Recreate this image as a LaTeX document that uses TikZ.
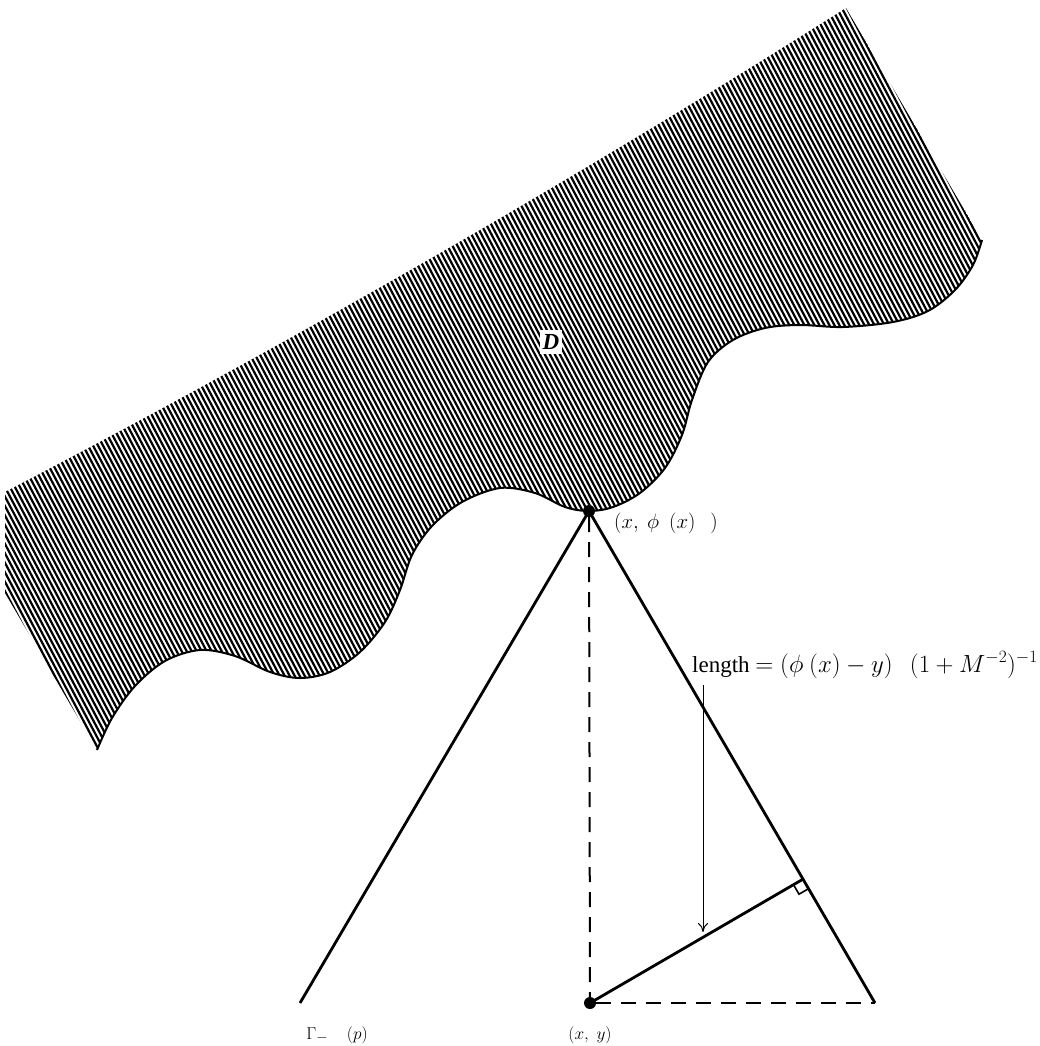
\documentclass[tikz,border=0pt]{standalone}
\usepackage{fontspec}
\setmainfont{Liberation Serif}
\usetikzlibrary{calc,arrows.meta}
\begin{document}
\begin{tikzpicture}[x=1pt,y=-1pt,
  mainline/.style={line width=2.8pt},
  dashline/.style={line width=2pt, dash pattern=on 15pt off 10pt},
  hatchline/.style={line width=2.2pt},
  bound/.style={line width=2pt, line join=round},
  pointdot/.style={circle, fill=black, inner sep=0pt, minimum size=12pt},
  lab/.style={inner sep=0pt},
  ]
\useasboundingbox (0,0) rectangle (1039,1046);
% hatched region D
\begin{scope}
\clip (846,8) .. controls (566,185) and (286,345) .. (5,492) -- (5,593) --
  plot[smooth,tension=0.55] coordinates {(97,750) (112,718) (135,686) (165,661) (200,650) (235,656) (270,672) (300,678) (330,672) (360,652) (385,622) (400,590) (412,555) (432,526) (462,502) (500,488) (535,493) (565,507) (589,511) (613,507) (640,493) (665,468) (682,435) (692,400) (708,362) (733,340) (765,328) (800,325) (843,327) (893,322) (928,311) (955,290) (973,265) (982,240)} -- cycle;
\foreach \k in {-570,-565,...,1045} \draw[hatchline] (\k,-5) -- ++(560,1060);
\end{scope}
\draw[bound] plot[smooth,tension=0.55] coordinates {(97,750) (112,718) (135,686) (165,661) (200,650) (235,656) (270,672) (300,678) (330,672) (360,652) (385,622) (400,590) (412,555) (432,526) (462,502) (500,488) (535,493) (565,507) (589,511) (613,507) (640,493) (665,468) (682,435) (692,400) (708,362) (733,340) (765,328) (800,325) (843,327) (893,322) (928,311) (955,290) (973,265) (982,240)};
\node[fill=white, inner xsep=3pt, inner ysep=4pt, font=\fontsize{23}{23}\selectfont] (D) at (551,342) {\textbf{\textit{D}}};
% cone and points
\node[pointdot] (apex) at (589,511) {};
\node[pointdot] (pt) at (590,1003) {};
\coordinate (Lend) at (300,1003);
\coordinate (Rend) at (875,1003);
\draw[mainline] (apex.center) -- (Lend);
\draw[mainline] (apex.center) -- (Rend);
\draw[dashline] (apex) -- (pt);
\draw[dashline] (pt) -- (Rend);
\coordinate (foot) at ($(apex)!(pt)!(Rend)$);
\draw[mainline] (pt.center) -- (foot);
\coordinate (sqa) at ($(foot)!11pt!(pt)$);
\coordinate (sqb) at ($(foot)!11pt!(Rend)$);
\draw[line width=1.6pt] (sqa) -- ($(sqa)+(sqb)-(foot)$) -- (sqb);
\coordinate (atop) at (703,685);
\coordinate (atip) at (703,932);
\draw[line width=1pt, -{To[length=9pt,width=10pt]}] (atop) -- (atip);
% labels
\node[lab, anchor=west, font=\fontsize{20}{22}\selectfont] (lphi) at (614,523) {$(x,\ \phi\ \ (x)\ \ \ )$};
\node[lab, anchor=base west, font=\fontsize{23}{25}\selectfont] (llen) at (692,672) {length $= (\phi\ (x) - y)\ \ \ (1 + M^{-2})^{-1}$};
\node[lab, font=\fontsize{19}{21}\selectfont] (lxy) at (590,1035) {$(x,\ y)$};
\node[lab, font=\fontsize{19}{21}\selectfont] (lgam) at (337,1035) {$\Gamma_{-}\quad(p)$};
\end{tikzpicture}
\end{document}
